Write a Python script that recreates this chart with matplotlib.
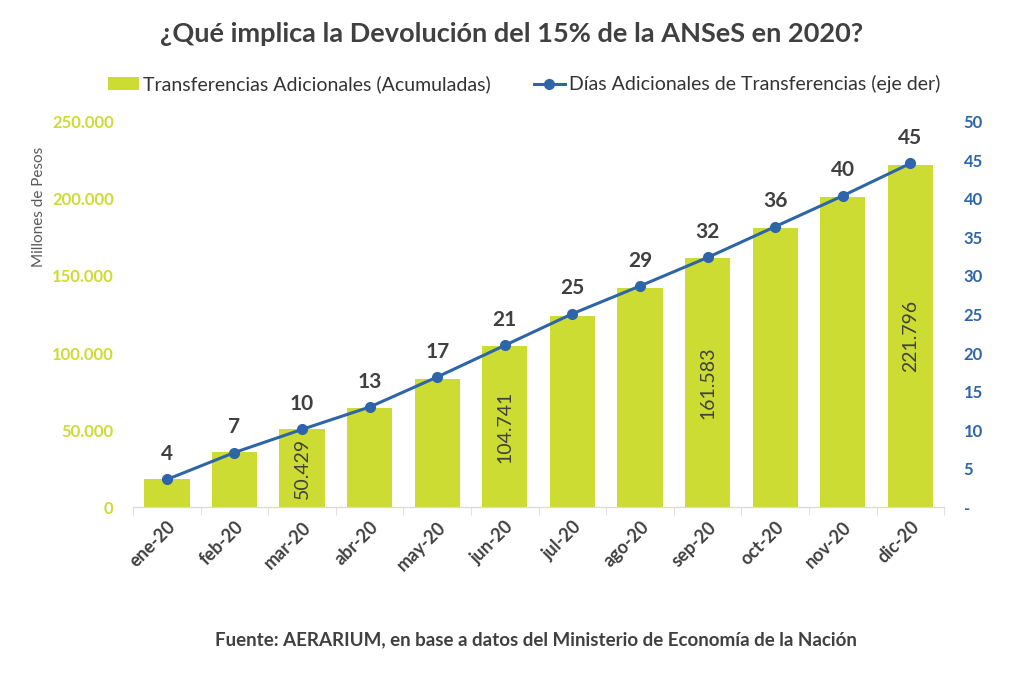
import numpy as np
import matplotlib.pyplot as plt
from matplotlib.ticker import FuncFormatter

# data
meses = ["ene-20", "feb-20", "mar-20", "abr-20", "may-20", "jun-20",
         "jul-20", "ago-20", "sep-20", "oct-20", "nov-20", "dic-20"]
transferencias = [18200, 35700, 50429, 64300, 83100, 104741,
                  124000, 142200, 161583, 181200, 201300, 221796]
dias = [3.6, 7.1, 10.1, 13.0, 16.9, 21.0, 25.1, 28.7, 32.4, 36.4, 40.4, 44.6]
dias_labels = [4, 7, 10, 13, 17, 21, 25, 29, 32, 36, 40, 45]
bar_labels_idx = [2, 5, 8, 11]

GREEN = "#CDDC32"
BLUE = "#2E65A9"
DARK = "#404040"

plt.rcParams['font.family'] = ['Lato', 'DejaVu Sans']

fig = plt.figure(figsize=(10.24, 6.92), dpi=100)
ax = fig.add_axes([0.130, 0.267, 0.792, 0.557])
ax2 = ax.twinx()

x = np.arange(len(meses))
ax.bar(x, transferencias, width=0.67, color=GREEN, zorder=2,
       label="Transferencias Adicionales (Acumuladas)")
for i in bar_labels_idx:
    v = transferencias[i]
    ax.text(x[i], v / 2, f"{v:,}".replace(",", "."), rotation=90,
            ha="center", va="center", fontsize=14, color=DARK)

ax2.plot(x, dias, color=BLUE, lw=2.2, marker="o", ms=7, zorder=3,
         label="Días Adicionales de Transferencias (eje der)")
for xi, yi, lab in zip(x, dias, dias_labels):
    ax2.text(xi, yi + 2.0, str(lab), ha="center", va="bottom",
             fontsize=15, fontweight="bold", color=DARK)

ax.set_xlim(-0.5, len(meses) - 0.5)
ax.set_ylim(0, 250000)
ax2.set_ylim(0, 50)
ax.set_yticks(np.arange(0, 250001, 50000))
ax2.set_yticks(np.arange(0, 51, 5))
ax.yaxis.set_major_formatter(FuncFormatter(lambda v, p: f"{int(v):,}".replace(",", ".")))
ax2.yaxis.set_major_formatter(FuncFormatter(lambda v, p: "-" if v == 0 else f"{int(v)}"))

ax.set_xticks(x)
ax.set_xticklabels(meses, rotation=45, ha="right", rotation_mode="anchor",
                   fontsize=13, fontweight="bold", color=DARK)
ax.set_xticks(np.arange(-0.5, len(meses), 1), minor=True)
ax.tick_params(axis="x", which="major", length=0, pad=8)
ax.tick_params(axis="x", which="minor", length=6, color="#D9D9D9")

ax.tick_params(axis="y", length=0, labelsize=12, labelcolor=GREEN, pad=14)
ax2.tick_params(axis="y", length=0, labelsize=12, labelcolor=BLUE, pad=14)
for lab in ax.get_yticklabels():
    lab.set_fontweight("bold")
for lab in ax2.get_yticklabels():
    lab.set_fontweight("bold")

for a in (ax, ax2):
    for s in ("top", "right", "left"):
        a.spines[s].set_visible(False)
    a.spines["bottom"].set_color("#D9D9D9")

ax.set_ylabel("Millones de Pesos", fontsize=11, color="#595959", labelpad=8)
ax.yaxis.set_label_coords(-0.108, 0.78)

fig.suptitle("¿Qué implica la Devolución del 15% de la ANSeS en 2020?",
             x=0.5, y=0.968, fontsize=19.5, fontweight="bold", color=DARK)

h1, l1 = ax.get_legend_handles_labels()
h2, l2 = ax2.get_legend_handles_labels()
fig.legend(h1 + h2, l1 + l2, loc="center", bbox_to_anchor=(0.512, 0.878),
           ncol=2, frameon=False, fontsize=14, handlelength=1.6,
           handletextpad=0.2, columnspacing=2.2, labelcolor="#333333")

fig.text(0.523, 0.075, "Fuente: AERARIUM, en base a datos del Ministerio de Economía de la Nación",
         ha="center", va="center", fontsize=13.5, fontweight="bold", color=DARK)

fig.savefig("out.png", dpi=100)
